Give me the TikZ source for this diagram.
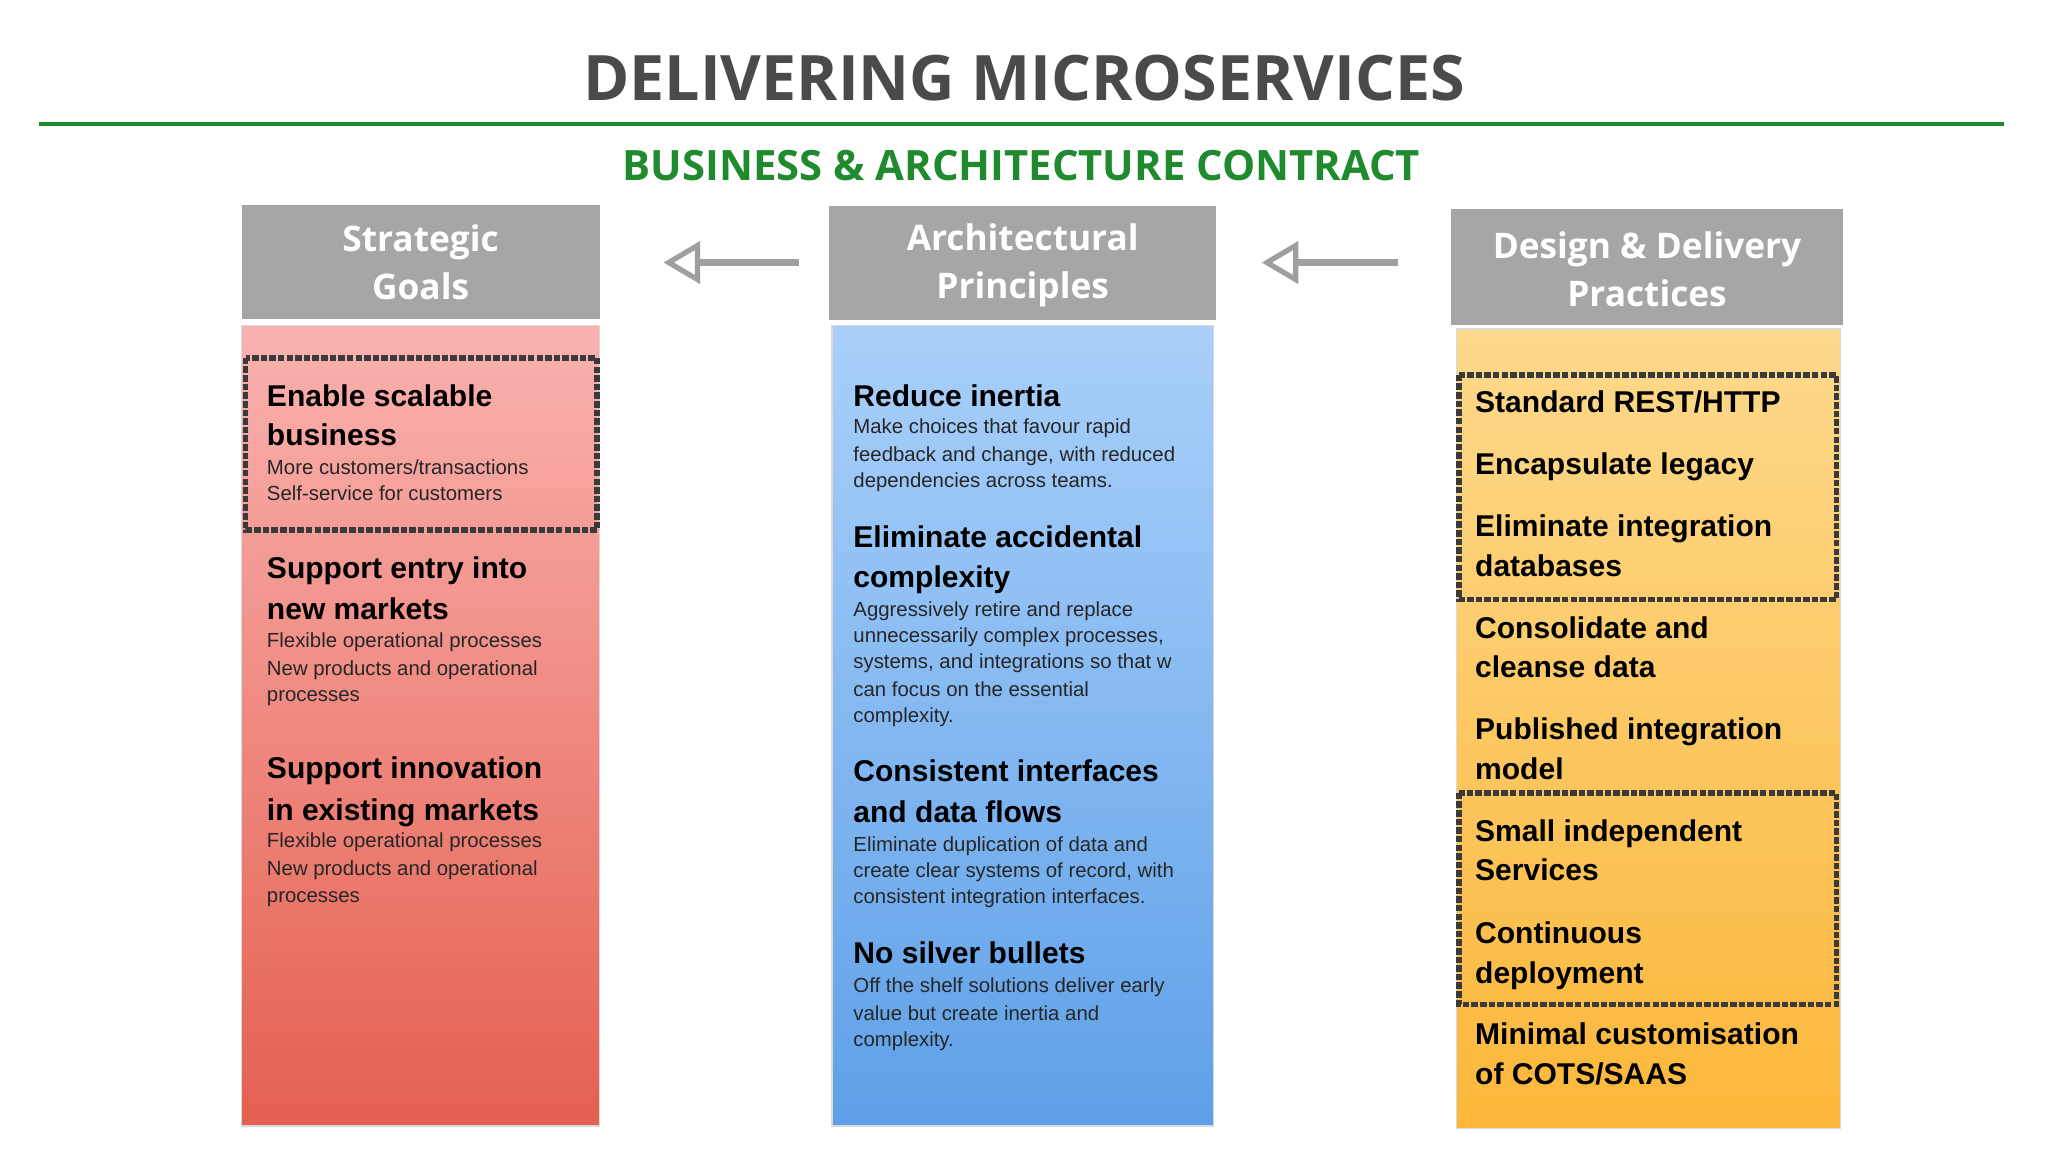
\documentclass[tikz,border=0pt]{standalone}
\usepackage{fontspec}
\setmainfont{Liberation Sans}
\newfontfamily\osans{Open Sans}
\usetikzlibrary{arrows.meta}
\definecolor{hdrgray}{HTML}{A6A6A6}
\definecolor{titlegray}{HTML}{4A4A4A}
\definecolor{grn}{HTML}{1F8A2E}
\definecolor{dk}{HTML}{3A3A3A}
\tikzset{
  hdr/.style={fill=hdrgray},
  hdrtxt/.style={text=white,font=\osans\bfseries\fontsize{13.5}{18.5}\selectfont,align=center},
  bigt/.style={anchor=base west,inner sep=0pt,font=\bfseries\fontsize{11.5}{13}\selectfont,text=black},
  smallt/.style={anchor=base west,inner sep=0pt,font=\fontsize{7.8}{9}\selectfont,text=black!85},
  frame/.style={draw=dk,line width=2.2pt,dash pattern=on 2.5pt off 0.8pt},
  arr/.style={draw=gray!75,line width=2.5pt,-{Triangle[open,length=14pt,width=16pt,line width=2pt]}}
}
\begin{document}
\begin{tikzpicture}[x=0.5pt,y=-0.5pt]
\useasboundingbox (0,0) rectangle (1568,882);
\fill[white] (0,0) rectangle (1568,882);
\node[font=\osans\bfseries\fontsize{24}{28}\selectfont,text=titlegray] (title) at (784,60) {DELIVERING MICROSERVICES};
\draw[grn,line width=1.6pt] (30,95) -- (1534,95);
\node[font=\osans\bfseries\fontsize{16}{20}\selectfont,text=grn] (sub) at (782,127) {BUSINESS \& ARCHITECTURE CONTRACT};
% headers
\fill[hdr] (185,157) rectangle (459,244);
\fill[hdr] (635,158) rectangle (931,245);
\fill[hdr] (1111,160) rectangle (1411,249);
\node[hdrtxt] (h1) at (322,201) {Strategic\\Goals};
\node[hdrtxt] (h2) at (783,203) {Architectural\\Principles};
\node[hdrtxt] (h3) at (1261,206) {Design \& Delivery\\Practices};
% boxes
\shade[top color={rgb,255:red,250;green,178;blue,176},bottom color={rgb,255:red,228;green,96;blue,80}] (185,249) rectangle (459,862);
\shade[top color={rgb,255:red,170;green,208;blue,250},bottom color={rgb,255:red,94;green,160;blue,232}] (637,249) rectangle (929,862);
\shade[top color={rgb,255:red,253;green,217;blue,140},bottom color={rgb,255:red,252;green,183;blue,58}] (1115,252) rectangle (1409,864);
\draw[black!15,line width=0.5pt] (185,249) rectangle (459,862) (637,249) rectangle (929,862) (1115,252) rectangle (1409,864);
% arrows
\coordinate (a1s) at (612,201); \coordinate (a1e) at (508,201);
\coordinate (a2s) at (1070,201); \coordinate (a2e) at (966,201);
\draw[arr] (a1s) -- (a1e);
\draw[arr] (a2s) -- (a2e);
% frames
\draw[frame] (188,274) rectangle (457,406);
\draw[frame] (1117,287) rectangle (1406,459);
\draw[frame] (1117,607) rectangle (1406,769);
% column 1
\foreach \t/\y [count=\i] in {Enable scalable/311,business/341,Support entry into/443,new markets/474,Support innovation/596,in existing markets/628}
  \node[bigt] (c1b\i) at (204,\y) {\t};
\foreach \t/\y [count=\i] in {{More customers/transactions}/363,Self-service for customers/383,Flexible operational processes/496,New products and operational/517,processes/537,Flexible operational processes/649,New products and operational/670,processes/691}
  \node[smallt] (c1s\i) at (204,\y) {\t};
% column 2
\foreach \t/\y [count=\i] in {Reduce inertia/311,Eliminate accidental/419,complexity/450,Consistent interfaces/598,and data flows/630,No silver bullets/738}
  \node[bigt] (c2b\i) at (653,\y) {\t};
\foreach \t/\y [count=\i] in {Make choices that favour rapid/332,{feedback and change, with reduced}/353,dependencies across teams./373,Aggressively retire and replace/472,{unnecessarily complex processes,}/492,{systems, and integrations so that w}/512,can focus on the essential/533,complexity./553,Eliminate duplication of data and/652,{create clear systems of record, with}/672,consistent integration interfaces./692,Off the shelf solutions deliver early/760,value but create inertia and/781,complexity./801}
  \node[smallt] (c2s\i) at (653,\y) {\t};
% column 3
\foreach \t/\y [count=\i] in {{Standard REST/HTTP}/316,Encapsulate legacy/363,Eliminate integration/411,databases/441,Consolidate and/489,cleanse data/519,Published integration/566,model/597,Small independent/644,Services/674,Continuous/722,deployment/753,Minimal customisation/800,{of COTS/SAAS}/830}
  \node[bigt] (c3b\i) at (1129,\y) {\t};
\end{tikzpicture}
\end{document}
